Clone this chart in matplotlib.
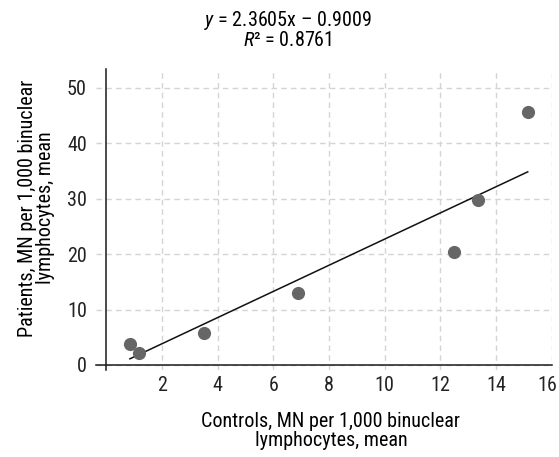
import matplotlib
matplotlib.use("Agg")
import matplotlib.pyplot as plt
import matplotlib.transforms as mtrans
import numpy as np

FONT = "Roboto Condensed"
plt.rcParams['font.family'] = [FONT, 'DejaVu Sans']
plt.rcParams['mathtext.fontset'] = 'custom'
plt.rcParams['mathtext.rm'] = FONT
plt.rcParams['mathtext.it'] = FONT + ':italic'

# data
controls = [0.85, 1.18, 3.5, 6.88, 12.48, 13.34, 15.14]
patients = [3.7, 2.1, 5.8, 13.0, 20.4, 29.7, 45.7]
slope = 2.3605
intercept = -0.9009
r2 = 0.8761
xticks = [2, 4, 6, 8, 10, 12, 14, 16]
yticks = [0, 10, 20, 30, 40, 50]

FS = 14.5

fig = plt.figure(figsize=(5.59, 4.57), dpi=100)
ax = fig.add_axes([0.1726, 0.1893, 0.8143, 0.6598])
ax.set_xlim(-0.35, 16)
ax.set_ylim(-1, 53.4)

ax.spines['left'].set_position(('data', 0))
ax.spines['bottom'].set_position(('data', 0))
ax.spines['top'].set_visible(False)
ax.spines['right'].set_visible(False)
for s in ('left', 'bottom'):
    ax.spines[s].set_color('#1a1a1a')
    ax.spines[s].set_linewidth(1.1)

ax.set_xticks(xticks)
ax.set_yticks(yticks)
ax.tick_params(axis='both', length=0, labelsize=FS, colors='#222222')
ax.tick_params(axis='x', pad=8)
ax.tick_params(axis='y', pad=14)
ax.grid(True, color='#d4d4d4', linestyle=(0, (4, 3)), linewidth=1.0)
ax.set_axisbelow(True)

# keep the last x tick label inside the figure
last = ax.get_xticklabels()[-1]
last.set_transform(last.get_transform() + mtrans.ScaledTranslation(-3 / 72, 0, fig.dpi_scale_trans))

ax.scatter(controls, patients, s=90, color='#666666', zorder=3, linewidths=0)
xs = np.array([min(controls), max(controls)])
ax.plot(xs, slope * xs + intercept, color='#111111', linewidth=1.1, zorder=2)

fig.text(0.515, 0.955, r'$y$ = %.4fx – %.4f' % (slope, -intercept), ha='center', va='center', fontsize=FS)
fig.text(0.515, 0.912, r'$R$² = %.4f' % r2, ha='center', va='center', fontsize=FS)

fig.text(0.592, 0.057, 'Controls, MN per 1,000 binuclear\nlymphocytes, mean',
         ha='center', va='center', fontsize=FS, linespacing=0.95)
fig.text(0.065, 0.545, 'Patients, MN per 1,000 binuclear\nlymphocytes, mean',
         ha='center', va='center', fontsize=FS, rotation=90, linespacing=0.95)

fig.savefig('out.png', dpi=100)
